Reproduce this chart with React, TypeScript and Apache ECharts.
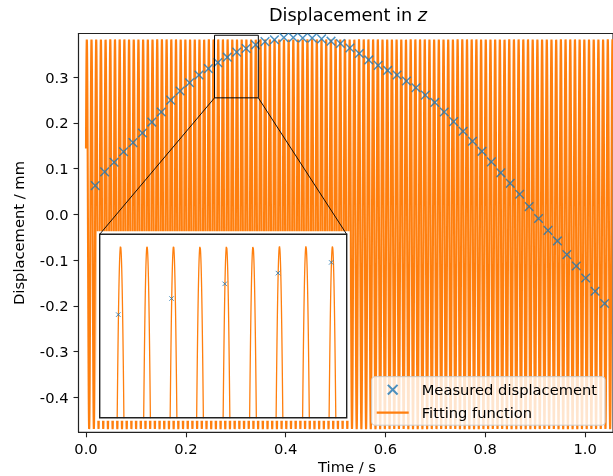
import React, { useEffect, useRef } from 'react';
import * as echarts from 'echarts';

// Measured displacement (time in s, displacement in mm)
const TIME_S = [
  0.0185, 0.0374, 0.0563, 0.0752, 0.0941, 0.113, 0.1319, 0.1508, 0.1697, 0.1886,
  0.2075, 0.2264, 0.2453, 0.2642, 0.2831, 0.302, 0.3209, 0.3398, 0.3587, 0.3776,
  0.3965, 0.4154, 0.4343, 0.4532, 0.4721, 0.491, 0.5099, 0.5288, 0.5477, 0.5666,
  0.5855, 0.6044, 0.6233, 0.6422, 0.6611, 0.68, 0.6989, 0.7178, 0.7367, 0.7556,
  0.7745, 0.7934, 0.8123, 0.8312, 0.8501, 0.869, 0.8879, 0.9068, 0.9257, 0.9446,
  0.9635, 0.9824, 1.0013, 1.0202, 1.0391,
];
const DISPLACEMENT_MM = [
  0.063, 0.093, 0.114, 0.137, 0.157, 0.178, 0.202, 0.224, 0.25, 0.27,
  0.288, 0.305, 0.319, 0.332, 0.344, 0.355, 0.363, 0.371, 0.378, 0.382,
  0.387, 0.387, 0.386, 0.386, 0.384, 0.379, 0.374, 0.364, 0.352, 0.338,
  0.326, 0.315, 0.305, 0.292, 0.277, 0.261, 0.245, 0.224, 0.203, 0.182,
  0.16, 0.138, 0.115, 0.091, 0.068, 0.044, 0.017, -0.009, -0.035, -0.058,
  -0.088, -0.113, -0.139, -0.168, -0.195,
];

// Fitted model parameters
const FIT_OFFSET = -0.0435;
const FIT_AMPLITUDE = 0.4265;
const FIT_FREQUENCY_HZ = 106.33;
const FIT_PEAK_TIME_S = 0.265;
const FIT_T_END = 1.056;
const FIT_STEP = 0.00005;

const X_TICKS = [0, 0.2, 0.4, 0.6, 0.8, 1.0];
const Y_TICKS = [-0.4, -0.3, -0.2, -0.1, 0, 0.1, 0.2, 0.3];
const X_RANGE = [-0.015, 1.056];
const Y_RANGE = [-0.4767, 0.3958];
const INSET_X = [0.2576, 0.3453];
const INSET_Y = [0.255, 0.392];

const TITLE = 'Displacement in ';
const TITLE_VAR = 'z';
const X_LABEL = 'Time / s';
const Y_LABEL = 'Displacement / mm';
const MEASURED_NAME = 'Measured displacement';
const FIT_NAME = 'Fitting function';

const FONT = 'DejaVu Sans';
const FS = 14.7;
const BLUE = '#1f77b4';
const ORANGE = '#ff7f0e';
const CROSS = 'path://M0,0L10,10M10,0L0,10';
const LEGEND_CROSS = 'path://M-2.2,-2.2M12.2,12.2M0,0L10,10M10,0L0,10';
const LEGEND_LINE = 'path://M0,0L32,0L32,2.2L0,2.2Z';

function fitValue(t: number) {
  return FIT_OFFSET + FIT_AMPLITUDE * Math.cos(2 * Math.PI * FIT_FREQUENCY_HZ * (t - FIT_PEAK_TIME_S));
}

export default function App() {
  const ref = useRef<HTMLDivElement>(null);
  useEffect(() => {
    if (!ref.current) return;
    const chart = echarts.init(ref.current, undefined, { renderer: 'svg' });

    const fitData: number[][] = [];
    const n = Math.round(FIT_T_END / FIT_STEP);
    for (let k = 0; k <= n; k++) {
      const t = k * FIT_STEP;
      fitData.push([t, fitValue(t)]);
    }
    const insetFit = fitData.filter((d) => d[0] >= INSET_X[0] - 0.002 && d[0] <= INSET_X[1] + 0.002);
    const measured = TIME_S.map((t, i) => [t, DISPLACEMENT_MM[i]]);
    const insetMeasured = measured.filter((d) => d[0] >= INSET_X[0] && d[0] <= INSET_X[1]);

    const axisCommon = {
      type: 'value',
      axisLine: { show: true, onZero: false, lineStyle: { color: '#222', width: 1.1 } },
      splitLine: { show: false },
    };

    const option: any = {
      animation: false,
      grid: [
        { left: 78.5, top: 33.5, width: 539, height: 398.8, show: true, borderColor: '#222', borderWidth: 1.1, backgroundColor: 'transparent' },
        { left: 99.7, top: 234.3, width: 247, height: 183.4, show: false },
      ],
      xAxis: [
        {
          ...axisCommon,
          gridIndex: 0,
          min: X_RANGE[0],
          max: X_RANGE[1],
          axisTick: { show: true, inside: false, length: 5, lineStyle: { color: '#222', width: 1.1 }, customValues: X_TICKS },
          axisLabel: { customValues: X_TICKS, formatter: (v: number) => v.toFixed(1), color: '#000', fontSize: FS, fontFamily: FONT, margin: 9 },
        },
        { type: 'value', gridIndex: 1, min: INSET_X[0], max: INSET_X[1], show: false },
      ],
      yAxis: [
        {
          ...axisCommon,
          gridIndex: 0,
          min: Y_RANGE[0],
          max: Y_RANGE[1],
          axisTick: { show: true, inside: false, length: 5, lineStyle: { color: '#222', width: 1.1 }, customValues: Y_TICKS },
          axisLabel: { customValues: Y_TICKS, formatter: (v: number) => v.toFixed(1), color: '#000', fontSize: FS, fontFamily: FONT, margin: 10 },
        },
        { type: 'value', gridIndex: 1, min: INSET_Y[0], max: INSET_Y[1], show: false },
      ],
      legend: {
        orient: 'vertical',
        left: 371.7,
        top: 376.7,
        padding: [5, 8, 5, 5],
        itemWidth: 32,
        itemHeight: 14,
        itemGap: 7.5,
        backgroundColor: 'rgba(255,255,255,0.8)',
        borderColor: '#cccccc',
        borderWidth: 1,
        borderRadius: 3,
        selectedMode: false,
        textStyle: { fontSize: FS, fontFamily: FONT, color: '#000', padding: [0, 0, 0, 8] },
        data: [
          { name: MEASURED_NAME, icon: LEGEND_CROSS },
          { name: FIT_NAME, icon: LEGEND_LINE },
        ],
        z: 10,
      },
      series: [
        {
          type: 'line', name: FIT_NAME, xAxisIndex: 0, yAxisIndex: 0, data: fitData,
          symbol: 'none', showSymbol: false, lineStyle: { color: ORANGE, width: 2.1 }, itemStyle: { color: ORANGE },
          z: 1, silent: true, clip: true,
        },
        {
          type: 'scatter', name: MEASURED_NAME, xAxisIndex: 0, yAxisIndex: 0, data: measured,
          symbol: CROSS, symbolSize: 8.6, itemStyle: { color: BLUE, borderColor: BLUE, borderWidth: 1.45 },
          z: 2, silent: true,
        },
        {
          type: 'line', name: FIT_NAME, xAxisIndex: 1, yAxisIndex: 1, data: insetFit,
          symbol: 'none', showSymbol: false, lineStyle: { color: ORANGE, width: 1.3 }, itemStyle: { color: ORANGE },
          z: 4, silent: true, clip: true,
        },
        {
          type: 'scatter', name: MEASURED_NAME, xAxisIndex: 1, yAxisIndex: 1, data: insetMeasured,
          symbol: CROSS, symbolSize: 4.5, itemStyle: { color: BLUE, borderColor: BLUE, borderWidth: 1 },
          z: 5, silent: true,
        },
      ],
    };
    chart.setOption(option);

    const mainBL = chart.convertToPixel({ gridIndex: 0 } as any, [INSET_X[0], INSET_Y[0]]) as number[];
    const mainTR = chart.convertToPixel({ gridIndex: 0 } as any, [INSET_X[1], INSET_Y[1]]) as number[];
    const insTL = chart.convertToPixel({ gridIndex: 1 } as any, [INSET_X[0], INSET_Y[1]]) as number[];
    const insBR = chart.convertToPixel({ gridIndex: 1 } as any, [INSET_X[1], INSET_Y[0]]) as number[];
    const pad = 3;

    chart.setOption({
      graphic: [
        {
          type: 'text', x: 348, y: 15, z: 20,
          style: {
            text: `{n|${TITLE}}{i|${TITLE_VAR}}`,
            align: 'center', verticalAlign: 'middle',
            rich: {
              n: { fontSize: 17.7, fontFamily: FONT, fill: '#000' },
              i: { fontSize: 17.7, fontFamily: FONT, fontStyle: 'italic', fill: '#000' },
            },
          },
        },
        {
          type: 'text', x: 347, y: 466, z: 20,
          style: { text: X_LABEL, fontSize: FS, fontFamily: FONT, fill: '#000', align: 'center', verticalAlign: 'middle' },
        },
        {
          type: 'text', x: 18.5, y: 233, rotation: Math.PI / 2, z: 20,
          style: { text: Y_LABEL, fontSize: FS, fontFamily: FONT, fill: '#000', align: 'center', verticalAlign: 'middle' },
        },
        {
          type: 'rect', z: 3, silent: true,
          shape: { x: insTL[0] - pad, y: insTL[1] - pad, width: insBR[0] - insTL[0] + 2 * pad, height: insBR[1] - insTL[1] + 2 * pad },
          style: { fill: '#fff', stroke: null },
        },
        {
          type: 'rect', z: 6, silent: true,
          shape: { x: insTL[0], y: insTL[1], width: insBR[0] - insTL[0], height: insBR[1] - insTL[1] },
          style: { fill: null, stroke: '#222', lineWidth: 1.4 },
        },
        {
          type: 'rect', z: 6, silent: true,
          shape: { x: mainBL[0], y: mainTR[1], width: mainTR[0] - mainBL[0], height: mainBL[1] - mainTR[1] },
          style: { fill: null, stroke: '#000', lineWidth: 1 },
        },
        {
          type: 'line', z: 6, silent: true,
          shape: { x1: mainBL[0], y1: mainBL[1], x2: insTL[0], y2: insTL[1] },
          style: { stroke: '#000', lineWidth: 0.9 },
        },
        {
          type: 'line', z: 6, silent: true,
          shape: { x1: mainTR[0], y1: mainBL[1], x2: insBR[0], y2: insTL[1] },
          style: { stroke: '#000', lineWidth: 0.9 },
        },
      ],
    });

    return () => chart.dispose();
  }, []);

  return <div ref={ref} style={{ position: 'fixed', left: 0, top: 0, width: 613, height: 476 }} />;
}
